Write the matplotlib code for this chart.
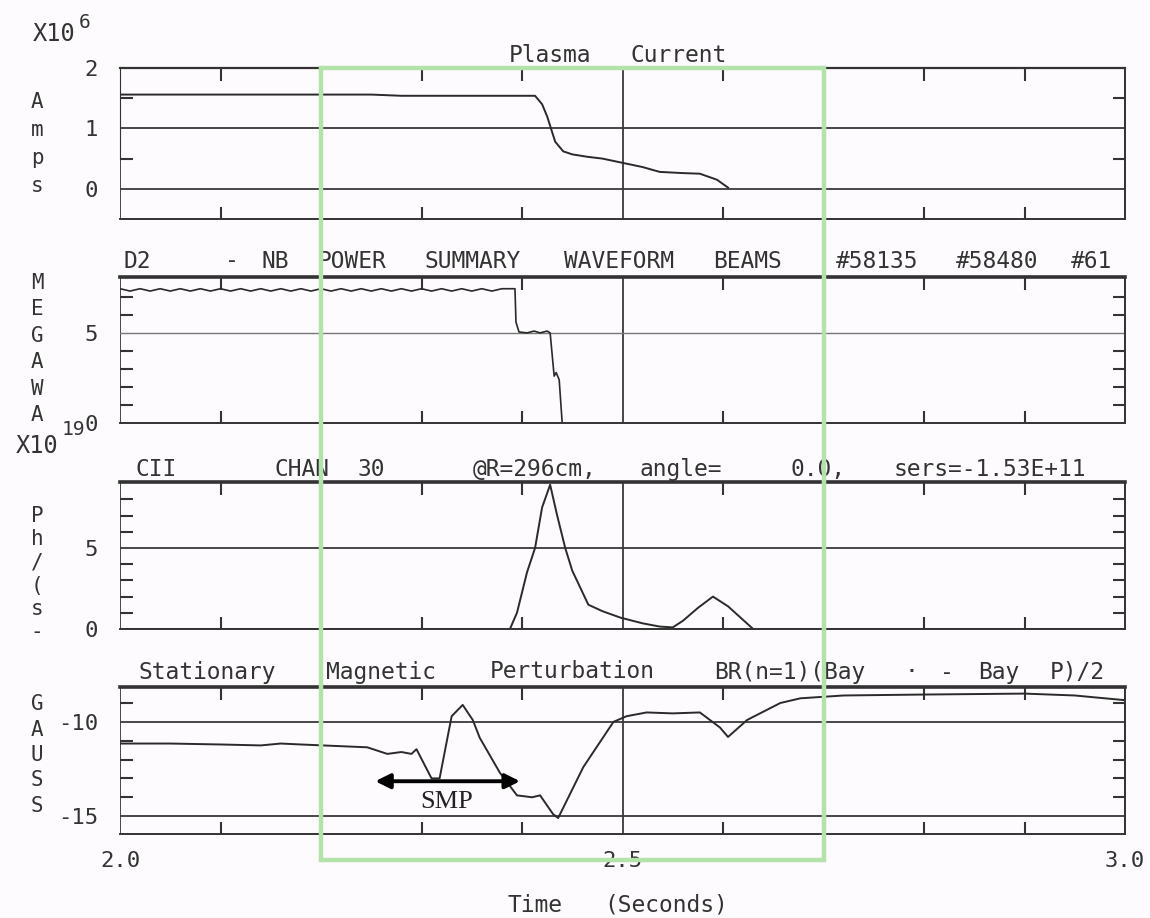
import re
import matplotlib
matplotlib.use('Agg')
import matplotlib.pyplot as plt
import matplotlib.transforms as mtrans
from matplotlib.patches import Rectangle

plt.rcParams['axes.unicode_minus'] = False
plt.rcParams['font.family'] = 'DejaVu Sans Mono'

# data
ip_t = [2.00, 2.25, 2.28, 2.413, 2.42, 2.425, 2.433, 2.441, 2.45, 2.465,
        2.48, 2.50, 2.52, 2.537, 2.56, 2.577, 2.594, 2.605]
ip_a = [1.56, 1.56, 1.54, 1.54, 1.40, 1.20, 0.78, 0.62, 0.57, 0.53,
        0.50, 0.43, 0.36, 0.28, 0.26, 0.25, 0.15, 0.02]

nb_t = [2.000, 2.010, 2.020, 2.030, 2.040, 2.050, 2.060, 2.070, 2.080, 2.090,
        2.100, 2.110, 2.120, 2.130, 2.140, 2.150, 2.160, 2.170, 2.180, 2.190,
        2.200, 2.210, 2.220, 2.230, 2.240, 2.250, 2.260, 2.270, 2.280, 2.290,
        2.300, 2.310, 2.320, 2.330, 2.340, 2.350, 2.360, 2.370, 2.380, 2.393,
        2.394, 2.397, 2.405, 2.412, 2.418, 2.425, 2.428, 2.432, 2.434, 2.437,
        2.440]
nb_p = [7.45, 7.32, 7.45, 7.32, 7.45, 7.32, 7.45, 7.32, 7.45, 7.32,
        7.45, 7.32, 7.45, 7.32, 7.45, 7.32, 7.45, 7.32, 7.45, 7.32,
        7.45, 7.32, 7.45, 7.32, 7.45, 7.32, 7.45, 7.32, 7.45, 7.32,
        7.45, 7.32, 7.45, 7.32, 7.45, 7.32, 7.45, 7.32, 7.45, 7.45,
        5.60, 5.05, 5.00, 5.10, 5.00, 5.10, 5.00, 2.60, 2.80, 2.40,
        0.00]

cii_t = [2.388, 2.395, 2.405, 2.413, 2.420, 2.428, 2.435, 2.443, 2.450, 2.466,
         2.480, 2.498, 2.520, 2.537, 2.550, 2.560, 2.575, 2.590, 2.605, 2.630]
cii_v = [0.0, 1.0, 3.5, 5.0, 7.5, 8.9, 7.0, 5.0, 3.6, 1.5,
         1.1, 0.7, 0.35, 0.15, 0.1, 0.5, 1.3, 2.0, 1.4, 0.0]

smp_t = [2.00, 2.05, 2.10, 2.14, 2.16, 2.18, 2.246, 2.266, 2.28, 2.29,
         2.295, 2.31, 2.318, 2.33, 2.341, 2.351, 2.358, 2.378, 2.395, 2.41,
         2.418, 2.431, 2.436, 2.461, 2.491, 2.504, 2.524, 2.55, 2.577, 2.597,
         2.605, 2.624, 2.657, 2.677, 2.72, 2.80, 2.90, 2.95, 3.00]
smp_g = [-11.15, -11.15, -11.2, -11.25, -11.15, -11.2, -11.35, -11.7, -11.6, -11.7,
         -11.45, -13.0, -13.0, -9.7, -9.1, -9.9, -10.85, -12.7, -13.9, -14.0,
         -13.9, -14.9, -15.1, -12.4, -10.0, -9.7, -9.5, -9.55, -9.5, -10.3,
         -10.8, -9.9, -9.0, -8.75, -8.6, -8.55, -8.5, -8.6, -8.85]

W, H = 1150, 918
ink = '#2a2a2a'
fig = plt.figure(figsize=(W / 100, H / 100), dpi=100, facecolor='#fdfbfd')

def px(x, y):
    return x / W, 1 - y / H

def spaced(x0, y, s, pitch=17.2, size=16.5, **kw):
    # old plotter font: fixed pitch, wide spacing
    for m in re.finditer(r'\S+', s):
        xc = x0 + (m.start() + len(m.group()) / 2) * pitch
        fig.text(*px(xc, y), m.group(), ha='center', va='center',
                 fontsize=size, color='#333333', **kw)

panels = [(68, 219), (277, 423), (482, 629), (687, 834)]
axes = []
for top, bot in panels:
    ax = fig.add_axes([120 / W, 1 - bot / H, 1005 / W, (bot - top) / H])
    ax.set_facecolor('none')
    axes.append(ax)
ax1, ax2, ax3, ax4 = axes

ax1.plot(ip_t, ip_a, color=ink, lw=1.4)
ax2.plot(nb_t, nb_p, color=ink, lw=1.2)
ax3.plot(cii_t, cii_v, color=ink, lw=1.4)
ax4.plot(smp_t, smp_g, color=ink, lw=1.4)

ylims = [(-0.5, 2.0), (0, 8.1), (0, 9.07), (-15.95, -8.15)]
majors = [[0, 1, 2], [0, 5], [0, 5], [-15, -10]]
minors = [[0.5, 1.5], [1, 2, 3, 4, 6, 7], [1, 2, 3, 4, 6, 7, 8],
          [-14, -13, -12, -11, -9]]
for ax, yl, mj, mn in zip(axes, ylims, majors, minors):
    ax.set_xlim(2.0, 3.0)
    ax.set_ylim(*yl)
    ax.set_xticks([2.0, 2.5, 3.0])
    ax.set_xticks([2.1, 2.2, 2.3, 2.4, 2.6, 2.7, 2.8, 2.9], minor=True)
    ax.set_yticks(mj)
    ax.set_yticks(mn, minor=True)
    ax.grid(True, which='major', color='#3a3a3a', lw=1.3)
    ax.tick_params(which='both', direction='in', top=True, right=True,
                   colors='#333333', labelsize=16, width=1.5)
    ax.tick_params(which='major', length=0, pad=16)
    ax.tick_params(which='minor', length=9)
    ax.tick_params(axis='x', labelbottom=False)
    for side in ['top', 'bottom', 'right']:
        ax.spines[side].set_color('#333333')
        ax.spines[side].set_linewidth(1.4)
    ax.spines['left'].set_visible(False)
    ax.spines['top'].set_linewidth(2.6)
    ax.set_axisbelow(True)

ax1.spines['top'].set_linewidth(1.6)
ax1.spines['left'].set_visible(True)
ax1.spines['left'].set_bounds(0.5, 2.0)
ax1.spines['left'].set_color('#333333')
ax2.grid(True, which='major', axis='y', color='#777777', lw=1.0)

ax4.tick_params(axis='x', labelbottom=True, pad=12)
ax4.set_xticklabels(['2.0', '2.5', '3.0'])

# SMP window marker
ax4.annotate('', xy=(2.254, -13.15), xytext=(2.398, -13.15),
             arrowprops=dict(arrowstyle='<|-|>', color='black', lw=2.8,
                             mutation_scale=22, shrinkA=0, shrinkB=0))
ax4.text(2.325, -14.25, 'SMP', ha='center', va='center', fontsize=19,
         family='Liberation Serif', color='#222222')

# panel titles
spaced(498, 56, 'Plasma Current')
spaced(120, 261, 'D2    - NB POWER SUMMARY WAVEFORM BEAMS  #58135 #58480 #61')
spaced(130, 469, 'CII     CHAN 30    @R=296cm, angle=   0.0, sers=-1.53E+11')
spaced(120, 672, 'Stationary Magnetic Perturbation BR(n=1)(Bay \u00b7 - Bay P)/2',
       pitch=17.4)
spaced(500, 905, 'Time (Seconds)', pitch=17.5)

# vertical unit labels
for (x, y), s, ls in [((37, 144), 'A\nm\np\ns', 1.5),
                      ((37, 349), 'M\nE\nG\nA\nW\nA', 1.4),
                      ((37, 574), 'P\nh\n/\n(\ns\n-', 1.2),
                      ((37, 755), 'G\nA\nU\nS\nS', 1.33)]:
    fig.text(*px(x, y), s, ha='center', va='center', fontsize=15,
             color='#333333', linespacing=ls)

# scale factors
fig.text(*px(33, 34), 'X10', ha='left', va='center', fontsize=17, color='#333333')
fig.text(*px(79, 23), '6', ha='left', va='center', fontsize=14, color='#333333')
fig.text(*px(16, 446), 'X10', ha='left', va='center', fontsize=17, color='#333333')
fig.text(*px(62, 430), '19', ha='left', va='center', fontsize=14, color='#333333')

# green highlight box spanning all panels
tr = mtrans.blended_transform_factory(ax4.transData, fig.transFigure)
box = Rectangle((2.2, 1 - 860 / H), 0.5, (860 - 68) / H, transform=tr,
                fill=False, ec='#b3e2aa', lw=3.2, zorder=5)
fig.add_artist(box)

fig.savefig('out.png', dpi=100, facecolor=fig.get_facecolor())
